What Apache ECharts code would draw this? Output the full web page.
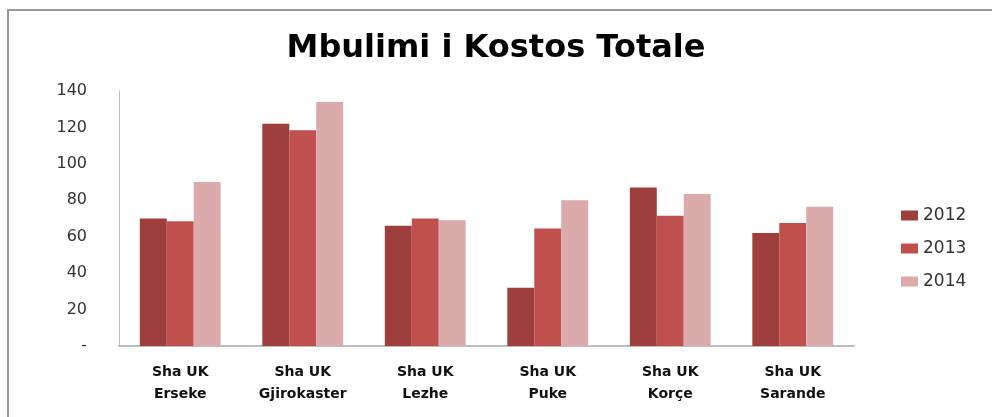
<!DOCTYPE html>
<html>
<head>
<meta charset="utf-8">
<script src="https://cdn.jsdelivr.net/npm/echarts@6/dist/echarts.min.js"></script>
<style>
  html, body { margin: 0; padding: 0; background: #fff; }
  #main { width: 992px; height: 417px; }
</style>
</head>
<body>
<div id="main"></div>
<script>
var categories = ["Sha UK\nErseke", "Sha UK\nGjirokaster", "Sha UK\nLezhe", "Sha UK\nPuke", "Sha UK\nKorçe", "Sha UK\nSarande"];
var years = ["2012", "2013", "2014"];
var values2012 = [70, 122, 66, 32, 87, 62];
var values2013 = [68.5, 118.5, 70, 64.5, 71.5, 67.5];
var values2014 = [90, 134, 69, 80, 83.5, 76.5];
var colors = ["#9e3f3e", "#c0504d", "#dbaaab"];

var chart = echarts.init(document.getElementById("main"));

var seriesData = [values2012, values2013, values2014];
var series = years.map(function (y, i) {
    return {
        name: y,
        type: "bar",
        data: seriesData[i],
        barGap: "0%",
        barCategoryGap: "34%",
        itemStyle: { color: colors[i] },
        emphasis: { disabled: true },
    };
});

var options = {
    animation: false,
    title: {
        left: "center",
        top: 28,
        text: "Mbulimi i Kostos Totale",
        textStyle: {
            fontFamily: "DejaVu Sans",
            fontSize: 32,
            fontWeight: "bold",
            color: "#000",
        },
    },
    graphic: [{
        type: "rect",
        shape: { x: 8, y: 10, width: 1000, height: 420 },
        style: { fill: "none", stroke: "#9a9a9a", lineWidth: 2 },
        silent: true,
    }],
    legend: {
        orient: "vertical",
        left: 896,
        top: 202,
        icon: "rect",
        itemWidth: 17,
        itemHeight: 10,
        itemGap: 16,
        data: years,
        textStyle: {
            fontFamily: "DejaVu Sans",
            fontSize: 17,
            color: "#333",
        },
    },
    grid: {
        left: 119,
        right: 138,
        top: 91,
        bottom: 71,
    },
    xAxis: {
        type: "category",
        data: categories,
        axisTick: { show: false },
        axisLine: { lineStyle: { color: "#bdbdbd", width: 2 } },
        axisLabel: {
            margin: 15,
            fontFamily: "DejaVu Sans",
            fontSize: 14,
            fontWeight: "bold",
            lineHeight: 22,
            color: "#111",
        },
    },
    yAxis: {
        type: "value",
        min: 0,
        max: 140,
        interval: 20,
        splitLine: { show: false },
        axisTick: { show: false },
        axisLine: { show: true, lineStyle: { color: "#bdbdbd", width: 1 } },
        axisLabel: {
            margin: 32,
            fontFamily: "DejaVu Sans",
            fontSize: 16,
            color: "#333",
            formatter: function (v) {
                return v === 0 ? "-" : v;
            },
        },
    },
    series: series,
};

chart.setOption(options);

window.onresize = function () {
    chart.resize();
};
</script>
</body>
</html>
